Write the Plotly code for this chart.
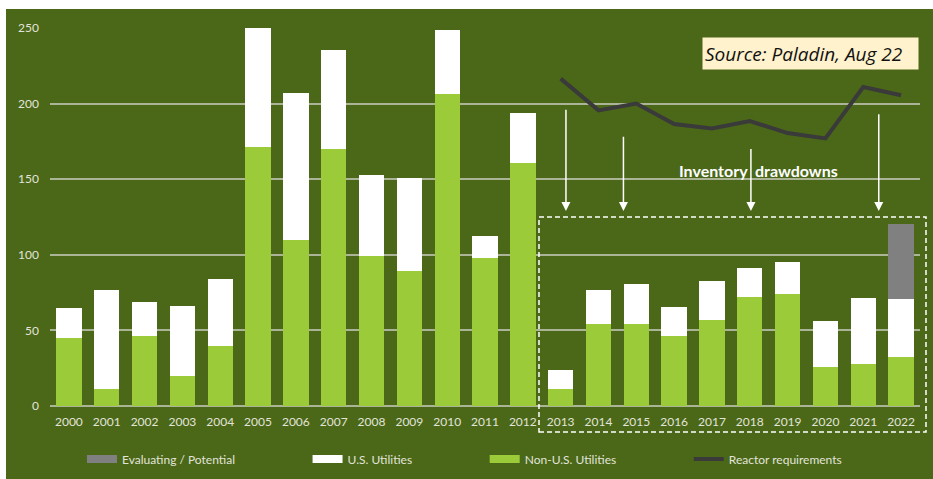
import plotly.graph_objects as go

years = [str(y) for y in range(2000, 2023)]
non_us = [45, 11.5, 46, 20, 40, 171, 109.5, 170, 99, 89.5, 206.5, 98, 161,
          11.5, 54, 54.5, 46, 57, 72, 74, 26, 27.5, 32.5]
us_total = [65, 76.5, 69, 66, 84, 250, 207, 235.5, 152.5, 151, 249, 112.5, 193.5,
            24, 76.5, 80.5, 65.5, 83, 91.5, 95.5, 56.5, 71.5, 70.5]
us = [round(t - n, 1) for t, n in zip(us_total, non_us)]
evaluating = [0] * 22 + [50]
req_years = [str(y) for y in range(2013, 2023)]
reactor_req = [216.5, 195.5, 200, 186.5, 183.5, 188.5, 180.5, 177, 211, 205.5]

legend_names = ["Evaluating / Potential", "U.S. Utilities",
                "Non-U.S. Utilities", "Reactor requirements"]

BG = "#4a6818"
GREEN = "#9ccb3a"
GRAY = "#808080"
LINE = "#3a3a3a"
TXT = "#e2e4da"
GRID = "rgba(205,205,195,0.75)"
FONT = "Lato"
PAD = "\u00a0" * 22

fig = go.Figure()
fig.add_trace(go.Bar(x=years, y=non_us, name=legend_names[2], showlegend=False,
                     marker=dict(color=GREEN, line=dict(width=0))))
fig.add_trace(go.Bar(x=years, y=us, name=legend_names[1], showlegend=False,
                     marker=dict(color="#ffffff", line=dict(width=0))))
fig.add_trace(go.Bar(x=years, y=evaluating, name=legend_names[0], showlegend=False,
                     marker=dict(color=GRAY, line=dict(width=0))))
fig.add_trace(go.Scatter(x=req_years, y=reactor_req, name=legend_names[3],
                         mode="lines", line=dict(color=LINE, width=4),
                         showlegend=False))

# legend entries (wide swatches like the original)
for i, (nm, col) in enumerate(zip(legend_names, [GRAY, "#ffffff", GREEN, LINE])):
    fig.add_trace(go.Scatter(x=[None], y=[None], mode="lines",
                             name=nm + (PAD if i < 3 else ""),
                             line=dict(color=col, width=8 if i < 3 else 4),
                             legendrank=i + 1, hoverinfo="skip"))

shapes = [
    dict(type="rect", xref="paper", yref="paper", x0=-0.1, x1=1.1,
         y0=(406 - 9) / 378, y1=1.2, fillcolor="white", line=dict(width=0),
         layer="above"),
    dict(type="rect", xref="paper", yref="paper", x0=-0.1, x1=-44 / 870,
         y0=-0.3, y1=1.2, fillcolor="white", line=dict(width=0), layer="above"),
    dict(type="rect", xref="paper", yref="paper",
         x0=(539 - 50) / 870, x1=(926 - 50) / 870,
         y0=(406 - 432) / 378, y1=(406 - 217) / 378,
         line=dict(color="white", width=1.5, dash="5px,3px"),
         fillcolor="rgba(0,0,0,0)"),
]

annotations = []
for xi, ytail in [(13.14, 197), (14.66, 179), (18.03, 171), (21.41, 194)]:
    annotations.append(dict(x=xi, y=129, ax=xi, ay=ytail, xref="x", yref="y",
                            axref="x", ayref="y", showarrow=True, arrowhead=2,
                            arrowsize=1.2, arrowwidth=1.5, arrowcolor="white",
                            text=""))
annotations.append(dict(x=18.23, y=156, xref="x", yref="y", showarrow=False,
                        text="<b>Inventory  drawdowns</b>",
                        font=dict(family=FONT, size=16, color="white")))
annotations.append(dict(x=(702 - 50) / 870, y=(406 - 37) / 378, xref="paper",
                        yref="paper", xanchor="left", yanchor="top",
                        showarrow=False, text="<i>Source: Paladin, Aug 22</i>",
                        font=dict(family="Open Sans", size=19, color="#111111"),
                        bgcolor="#fff2cc", width=211, height=27, align="left",
                        borderpad=2))

fig.update_layout(
    width=933, height=479,
    margin=dict(l=50, r=13, t=28, b=73, autoexpand=False),
    paper_bgcolor=BG, plot_bgcolor=BG,
    barmode="stack", bargap=0.33,
    font=dict(family=FONT, color=TXT, size=12),
    showlegend=True,
    legend=dict(orientation="h", x=(82 - 50) / 870, xanchor="left",
                y=(406 - 459) / 378, yanchor="middle",
                font=dict(family=FONT, size=12, color=TXT),
                bgcolor="rgba(0,0,0,0)", traceorder="normal"),
    xaxis=dict(type="category", showgrid=False, zeroline=False,
               tickfont=dict(family=FONT, size=12, color=TXT), ticks="",
               ticklabelstandoff=7),
    yaxis=dict(range=[0, 250], tickvals=[0, 50, 100, 150, 200, 250],
               showgrid=True, gridcolor=GRID, gridwidth=1.5,
               zeroline=True, zerolinecolor=GRID, zerolinewidth=1.5,
               tickfont=dict(family=FONT, size=12, color=TXT),
               ticklabelstandoff=10, fixedrange=True),
    shapes=shapes, annotations=annotations,
)

fig.write_html("out.html", config={"displayModeBar": False},
               post_script="document.body.style.margin='0';")
